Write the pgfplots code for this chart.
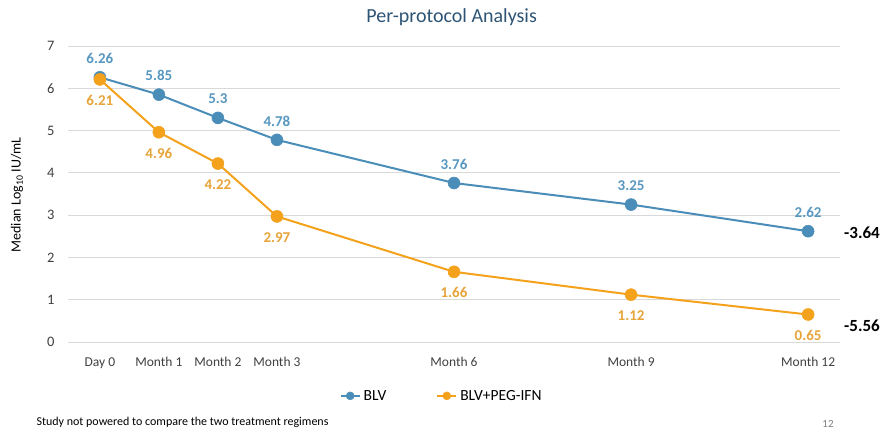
\documentclass[border=0pt]{standalone}
\usepackage{fontspec}
\setmainfont{Carlito}
\usepackage{pgfplots}
\pgfplotsset{compat=1.18}
\definecolor{blv}{HTML}{4A8DB8}
\definecolor{blvlab}{HTML}{5797C0}
\definecolor{peg}{HTML}{F4A11C}
\definecolor{peglab}{HTML}{E6A43A}
\definecolor{titlec}{HTML}{2E5475}
\definecolor{tickc}{HTML}{404040}
\definecolor{gridc}{HTML}{D9D9D9}
\begin{document}
\begin{tikzpicture}[x=1pt,y=1pt]
\path[use as bounding box] (0,0) rectangle (888,432);
\begin{axis}[
  at={(68pt,90pt)}, anchor=south west,
  scale only axis, width=772pt, height=296pt,
  xmin=-0.54, xmax=12.54, ymin=0, ymax=7,
  xtick={0,1,2,3,6,9,12},
  xticklabels={Day 0,Month 1,Month 2,Month 3,Month 6,Month 9,Month 12},
  ytick={0,1,...,7},
  ymajorgrids, grid style={gridc, line width=1pt},
  axis line style={draw=none},
  major tick length=0pt,
  /pgf/number format/assume math mode=true,
  xticklabel style={font=\fontsize{13.5}{14}\selectfont, text=tickc, yshift=-12pt},
  yticklabel style={font=\fontsize{14.5}{15}\selectfont, text=tickc, xshift=-10pt},
  ylabel={Median Log\textsubscript{10} IU/mL},
  ylabel style={at={(axis description cs:-0.066,0.497)}, anchor=center, font=\fontsize{14}{15}\selectfont, text=black},
  title={Per-protocol Analysis},
  title style={at={(axis description cs:0.497,1.077)}, anchor=center, font=\fontsize{20}{22}\selectfont, text=titlec},
  legend columns=2,
  legend image code/.code={
    \draw[#1,mark=none] (0pt,0pt) -- (19pt,0pt);
    \draw[#1, mark size=4pt] plot coordinates {(9.5pt,0pt)};},
  legend style={at={(axis description cs:0.484,-0.182)}, anchor=center, draw=none, fill=none,
    font=\fontsize{15.5}{16}\selectfont,
    /tikz/every odd column/.append style={column sep=1pt},
    /tikz/every even column/.append style={column sep=48pt}},
  legend cell align=left,
  clip=false,
]
\addplot[color=blv, line width=2pt, mark=*, mark size=6pt, mark options={fill=blv, draw=blv, line width=0.5pt},
  nodes near coords,
  every node near coord/.append style={font=\bfseries\fontsize{15}{15}\selectfont, text=blvlab, anchor=center, yshift=19pt}]
  coordinates {(0,6.26) (1,5.85) (2,5.3) (3,4.78) (6,3.76) (9,3.25) (12,2.62)};
\addlegendentry{BLV}
\addplot[color=peg, line width=2pt, mark=*, mark size=6pt, mark options={fill=peg, draw=peg, line width=0.5pt},
  nodes near coords,
  every node near coord/.append style={font=\bfseries\fontsize{15}{15}\selectfont, text=peglab, anchor=center, yshift=-21pt}]
  coordinates {(0,6.21) (1,4.96) (2,4.22) (3,2.97) (6,1.66) (9,1.12) (12,0.65)};
\addlegendentry{BLV+PEG-IFN}
\end{axis}
\node[font=\bfseries\fontsize{17}{17}\selectfont, text=black] at (862,199) {-3.64};
\node[font=\bfseries\fontsize{17}{17}\selectfont, text=black] at (862,106) {-5.56};
\node[font=\fontsize{12}{13}\selectfont, anchor=west, text=black] at (33,10) {Study not powered to compare the two treatment regimens};
\node[font=\fontsize{11}{12}\selectfont, text=gray] at (828,8) {12};
\end{tikzpicture}
\end{document}
